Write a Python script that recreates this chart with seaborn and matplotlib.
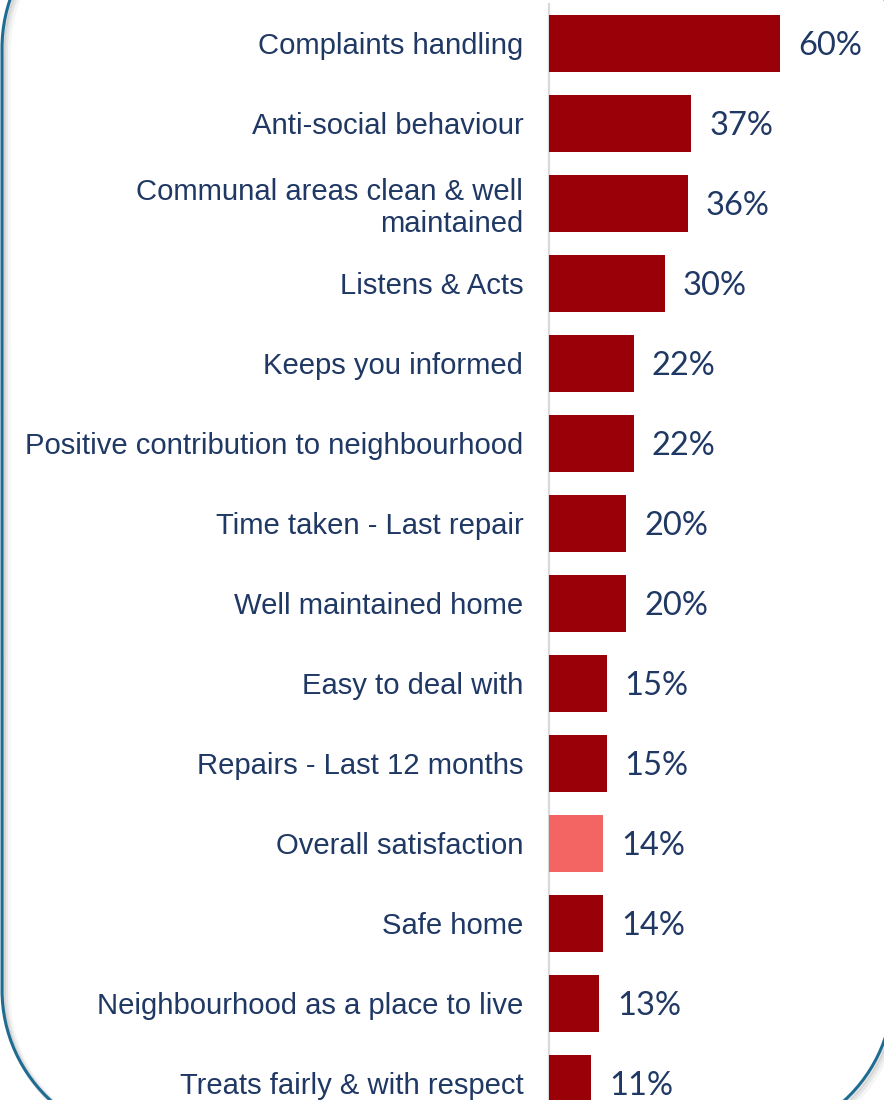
import matplotlib
matplotlib.use("Agg")
import matplotlib.pyplot as plt
import numpy as np
import seaborn as sns
import pandas as pd

# Share of tenants who changed their view, by satisfaction measure (%)
categories = [
    "Complaints handling",
    "Anti-social behaviour",
    "Communal areas clean & well\nmaintained",
    "Listens & Acts",
    "Keeps you informed",
    "Positive contribution to neighbourhood",
    "Time taken - Last repair",
    "Well maintained home",
    "Easy to deal with",
    "Repairs - Last 12 months",
    "Overall satisfaction",
    "Safe home",
    "Neighbourhood as a place to live",
    "Treats fairly & with respect",
]
values = [60, 37, 36, 30, 22, 22, 20, 20, 15, 15, 14, 14, 13, 11]
highlight = "Overall satisfaction"

BAR = "#9A0008"
BAR_HL = "#F26563"
NAVY = "#1F3864"
FRAME = "#1F6C93"

df = pd.DataFrame({"measure": categories, "pct": values})
palette = {c: (BAR_HL if c == highlight else BAR) for c in categories}

W, H, DPI = 884, 1100, 100
fig = plt.figure(figsize=(W / DPI, H / DPI), dpi=DPI)
fig.patch.set_facecolor("white")

# Plot area: value axis starts at x=549px, rows are 80px apart
ax_left, ax_top = 549, 4
ax = fig.add_axes([ax_left / W, 0, (W - ax_left) / W, (H - ax_top) / H])
ax.set_facecolor("none")

sns.barplot(data=df, x="pct", y="measure", hue="measure", palette=palette,
            order=categories, hue_order=categories, width=0.71, saturation=1,
            legend=False, orient="h", ax=ax)

px_per_unit = 3.85
ax.set_xlim(0, (W - ax_left) / px_per_unit)
row0, row_px = 43.5, 80.0
ax.set_ylim((H - row0) / row_px, (ax_top - row0) / row_px)

for i, v in enumerate(values):
    ax.text(v + 18 / px_per_unit, i + 0.03, f"{v}%", va="center", ha="left",
            fontsize=23.5, family=["Lato", "DejaVu Sans"], color=NAVY,
            clip_on=False)

ax.set_xlabel("")
ax.set_ylabel("")
ax.set_xticks([])
ax.tick_params(axis="y", length=0, pad=18.5)
for lab in ax.get_yticklabels():
    lab.set_fontfamily(["Liberation Sans", "DejaVu Sans"])
    lab.set_fontsize(21.05)
    lab.set_color(NAVY)
    lab.set_linespacing(1.15)
for side in ("top", "right", "bottom"):
    ax.spines[side].set_visible(False)
ax.spines["left"].set_color("#D9D9D9")
ax.spines["left"].set_linewidth(1.6)
ax.spines["left"].set_zorder(0)

# Overlay in pixel units for the rounded panel frame
ov = fig.add_axes([0, 0, 1, 1], zorder=5)
ov.set_xlim(0, W)
ov.set_ylim(0, H)
ov.set_axis_off()
ov.patch.set_alpha(0)


def rounded_rect(x0, y0, x1, y1, r, n=60):
    """Closed outline of a rectangle with circular corners of radius r."""
    pts = []
    corners = [(x1 - r, y1 - r, 0.0), (x0 + r, y1 - r, 90.0),
               (x0 + r, y0 + r, 180.0), (x1 - r, y0 + r, 270.0)]
    for cx, cy, start in corners:
        t = np.radians(np.linspace(start, start + 90.0, n))
        pts.append(np.column_stack([cx + r * np.cos(t), cy + r * np.sin(t)]))
    pts = np.vstack(pts)
    return np.vstack([pts, pts[:1]])


outline = rounded_rect(2, H - 1140, 893, H + 102, 150)
for off, lw, a in [(5, 5, 0.08), (3.5, 3.5, 0.12), (2, 2.5, 0.18)]:
    ov.plot(outline[:, 0] + off, outline[:, 1] - off, color="#808080",
            lw=lw, alpha=a, clip_on=False, solid_joinstyle="round")
ov.plot(outline[:, 0], outline[:, 1], color=FRAME, lw=2.2, clip_on=False,
        solid_joinstyle="round")

fig.savefig("out.png", dpi=DPI, facecolor="white")
